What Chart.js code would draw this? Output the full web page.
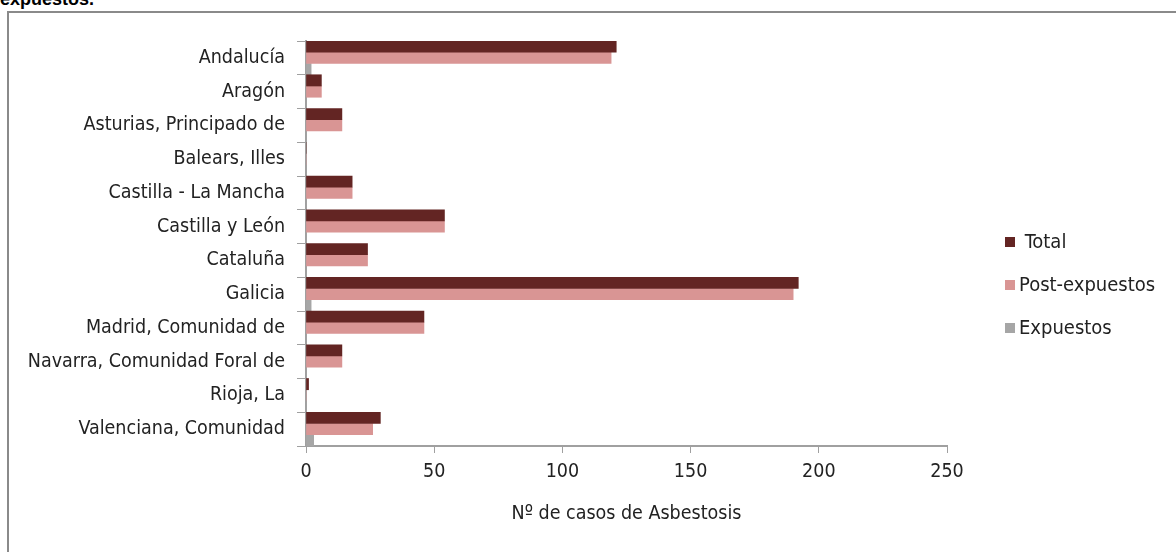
<!DOCTYPE html>
<html lang="es">
<head>
<meta charset="UTF-8">
<title>Casos de Asbestosis</title>
<script src="https://cdn.jsdelivr.net/npm/chart.js"></script>
<style>
  body, html {
    margin: 0;
    padding: 0;
    background: #fff;
    width: 1176px;
    height: 552px;
    overflow: hidden;
    position: relative;
  }
  .title {
    position: absolute;
    left: 0;
    top: -11px;
    font-family: 'Liberation Sans', Arial, sans-serif;
    font-weight: bold;
    font-size: 18px;
    color: #000;
  }
  .frame {
    position: absolute;
    left: 7px;
    top: 11px;
    width: 1200px;
    height: 600px;
    border: 2px solid #8a8a8a;
    box-sizing: border-box;
  }
  #chart-box {
    position: absolute;
    left: 0;
    top: 0;
    width: 1176px;
    height: 552px;
  }
  .legend {
    position: absolute;
    left: 1005px;
    top: 226px;
    font-family: 'DejaVu Sans Condensed', sans-serif;
    font-size: 20px;
    color: #222;
  }
  .legend div {
    height: 43px;
    line-height: 30px;
    white-space: nowrap;
  }
  .legend span.sw {
    display: inline-block;
    width: 10px;
    height: 10px;
    margin-right: 4px;
    vertical-align: 1px;
  }
</style>
</head>
<body>
<div class="title">expuestos.</div>
<div class="frame"></div>
<div id="chart-box"><canvas id="bar-chart" width="1176" height="552"></canvas></div>
<div class="legend" id="legend"></div>

<script>
const regions = ['Andalucía', 'Aragón', 'Asturias, Principado de', 'Balears, Illes',
  'Castilla - La Mancha', 'Castilla y León', 'Cataluña', 'Galicia',
  'Madrid, Comunidad de', 'Navarra, Comunidad Foral de', 'Rioja, La', 'Valenciana, Comunidad'];
const total = [121, 6, 14, 0, 18, 54, 24, 192, 46, 14, 1, 29];
const postExpuestos = [119, 6, 14, 0, 18, 54, 24, 190, 46, 14, 0, 26];
const expuestos = [2, 0, 0, 0, 0, 0, 0, 2, 0, 0, 0, 3];
const xTicks = [0, 50, 100, 150, 200, 250];

const seriesNames = [' Total', 'Post-expuestos', 'Expuestos'];
const seriesColors = ['#632523', '#d99594', '#a6a6a6'];

const labelFont = { family: "'DejaVu Sans Condensed', sans-serif", size: 19.5 };

const ctx = document.getElementById('bar-chart').getContext('2d');
const chart = new Chart(ctx, {
  type: 'bar',
  data: {
    labels: regions,
    datasets: [total, postExpuestos, expuestos].map((d, i) => ({
      label: seriesNames[i],
      data: d,
      backgroundColor: seriesColors[i],
      borderWidth: 0,
      categoryPercentage: 1.0,
      barPercentage: 1.0
    }))
  },
  options: {
    indexAxis: 'y',
    responsive: false,
    animation: false,
    layout: { padding: { left: 0, right: 229, top: 41, bottom: 22 } },
    plugins: {
      legend: { display: false },
      tooltip: { enabled: false }
    },
    scales: {
      x: {
        min: 0,
        max: 250,
        afterBuildTicks: s => { s.ticks = xTicks.map(v => ({ value: v })); },
        afterFit: s => { s.height = 84; },
        border: { color: '#a0a0a0', width: 2 },
        grid: { drawOnChartArea: false, color: '#a0a0a0', tickLength: 7, lineWidth: 1 },
        ticks: { color: '#222', font: labelFont, padding: 7 },
        title: {
          display: true,
          text: 'Nº de casos de Asbestosis',
          color: '#222',
          font: labelFont,
          padding: { top: 2 }
        }
      },
      y: {
        afterFit: s => { s.width = 306; },
        border: { color: '#a0a0a0', width: 2 },
        grid: { drawOnChartArea: false, color: '#a0a0a0', tickLength: 9, offset: true },
        ticks: { color: '#222', font: labelFont, padding: 12 }
      }
    }
  }
});

const legend = document.getElementById('legend');
seriesNames.forEach((name, i) => {
  legend.insertAdjacentHTML('beforeend',
    `<div><span class="sw" style="background:${seriesColors[i]}"></span>${name}</div>`);
});
</script>
</body>
</html>
